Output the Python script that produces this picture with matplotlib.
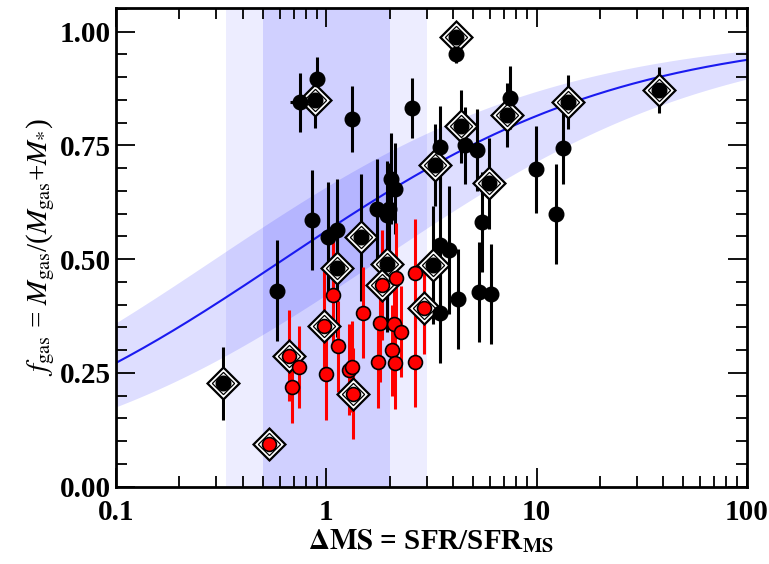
import numpy as np
import matplotlib.pyplot as plt
from matplotlib.ticker import FixedLocator, FixedFormatter, NullFormatter, MultipleLocator

plt.rcParams['font.family'] = ['Liberation Serif', 'DejaVu Serif']
plt.rcParams['mathtext.fontset'] = 'stix'

# black points (plain)
black_x = [0.75, 0.90, 1.33, 4.13, 2.57, 7.46, 13.3, 4.59, 5.21, 3.49, 9.93, 12.4,
           2.03, 5.50, 4.22, 5.33, 6.09, 3.49, 3.82, 3.49, 2.13, 1.94, 1.74, 1.98,
           0.58, 0.855, 1.02, 1.12]
black_y = [0.845, 0.895, 0.808, 0.951, 0.832, 0.855, 0.745, 0.750, 0.739, 0.746, 0.697, 0.599,
           0.677, 0.582, 0.412, 0.427, 0.423, 0.531, 0.520, 0.381, 0.655, 0.596, 0.611, 0.611,
           0.431, 0.586, 0.549, 0.565]
black_err = [0.065, 0.05, 0.072, 0.02, 0.065, 0.07, 0.08, 0.085, 0.09, 0.09, 0.095, 0.11,
             0.10, 0.11, 0.11, 0.11, 0.11, 0.15, 0.14, 0.11, 0.10, 0.12, 0.11, 0.10,
             0.11, 0.11, 0.12, 0.11]
black_xerr = [0.08, 0, 0, 0, 0, 0, 0, 0, 0, 0, 0, 0,
              0, 0, 0, 0, 0, 0, 0, 0, 0, 0, 0, 0,
              0, 0.06, 0, 0]

# black points inside diamonds
bdia_x = [4.13, 7.2, 14.1, 4.35, 3.28, 38.3, 5.95, 3.22, 0.886, 0.322, 1.12, 1.46, 1.94]
bdia_y = [0.988, 0.816, 0.845, 0.792, 0.706, 0.872, 0.667, 0.487, 0.849, 0.227, 0.480, 0.548, 0.490]
bdia_err = [0.02, 0.07, 0.06, 0.08, 0.09, 0.05, 0.10, 0.13, 0.06, 0.08, 0.15, 0.14, 0.15]

# red points (plain)
red_x = [0.687, 0.738, 1.0, 1.08, 1.14, 1.28, 1.33, 1.5, 1.77, 1.8, 2.05, 2.11, 2.15,
         2.13, 2.27, 2.63, 2.63]
red_y = [0.22, 0.264, 0.247, 0.421, 0.309, 0.257, 0.264, 0.382, 0.273, 0.359, 0.30, 0.357,
         0.459, 0.271, 0.34, 0.469, 0.275]
red_err = [0.08, 0.09, 0.10, 0.12, 0.10, 0.10, 0.10, 0.10, 0.10, 0.13, 0.10, 0.11,
           0.12, 0.10, 0.10, 0.12, 0.10]

# red points inside diamonds
rdia_x = [0.531, 0.661, 0.97, 1.34, 1.84, 2.92]
rdia_y = [0.094, 0.288, 0.353, 0.204, 0.443, 0.392]
rdia_err = [0.035, 0.10, 0.12, 0.10, 0.12, 0.10]

# model curve f = 1 / (1 + a * dMS^-b) and its spread
fit_a, fit_b = 0.78, 0.535
fit_a_lo, fit_a_hi = 0.518, 1.37

fig = plt.figure(figsize=(7.69, 5.64), dpi=100)
ax = fig.add_axes([0.151, 0.137, 0.820, 0.849])

# main-sequence bands
ax.axvspan(1/3., 3., color='blue', alpha=0.07, lw=0, zorder=0)
ax.axvspan(0.5, 2., color='blue', alpha=0.12, lw=0, zorder=0)

xx = np.logspace(-1, 2, 300)
ax.fill_between(xx, 1/(1 + fit_a_hi*xx**-fit_b), 1/(1 + fit_a_lo*xx**-fit_b),
                color='blue', alpha=0.13, lw=0, zorder=1)
ax.plot(xx, 1/(1 + fit_a*xx**-fit_b), color='#1a1af0', lw=1.5, zorder=2)

# error bars
ax.errorbar(black_x, black_y, yerr=black_err, xerr=black_xerr, fmt='none',
            ecolor='black', elinewidth=2.2, capsize=0, zorder=3)
ax.errorbar(bdia_x, bdia_y, yerr=bdia_err, fmt='none',
            ecolor='black', elinewidth=2.2, capsize=0, zorder=3)
ax.errorbar(red_x, red_y, yerr=red_err, fmt='none',
            ecolor='red', elinewidth=2.2, capsize=0, zorder=3)
ax.errorbar(rdia_x, rdia_y, yerr=rdia_err, fmt='none',
            ecolor='red', elinewidth=2.2, capsize=0, zorder=3)

# diamonds (double outline)
dia_x = bdia_x + rdia_x
dia_y = bdia_y + rdia_y
ax.plot(dia_x, dia_y, ls='none', marker=(4, 0, 0), ms=23, mfc='white',
        mec='black', mew=1.6, zorder=4)
ax.plot(dia_x, dia_y, ls='none', marker=(4, 0, 0), ms=16, mfc='none',
        mec='black', mew=0.9, zorder=4)

# circles
ax.plot(black_x + bdia_x, black_y + bdia_y, ls='none', marker='o', ms=10.5,
        mfc='black', mec='black', zorder=5)
ax.plot(red_x + rdia_x, red_y + rdia_y, ls='none', marker='o', ms=10,
        mfc='red', mec='black', mew=1.2, zorder=5)

ax.set_xscale('log')
ax.set_xlim(0.1, 100)
ax.set_ylim(0, 1.052)

ax.xaxis.set_major_locator(FixedLocator([0.1, 1, 10, 100]))
ax.xaxis.set_major_formatter(FixedFormatter(['0.1', '1', '10', '100']))
ax.xaxis.set_minor_locator(FixedLocator([m * 10.0**e for e in (-1, 0, 1) for m in range(2, 10)]))
ax.xaxis.set_minor_formatter(NullFormatter())
ax.yaxis.set_major_locator(MultipleLocator(0.25))
ax.yaxis.set_minor_locator(MultipleLocator(0.05))
ax.set_yticks([0, 0.25, 0.5, 0.75, 1.0])
ax.set_yticklabels(['0.00', '0.25', '0.50', '0.75', '1.00'])

ax.tick_params(which='both', direction='in', top=True, right=True, width=1.3, color='black')
ax.tick_params(which='major', length=14)
ax.tick_params(which='minor', length=8)
ax.tick_params(axis='x', which='major', pad=9)
ax.tick_params(axis='y', which='major', pad=4)
for lab in ax.get_xticklabels() + ax.get_yticklabels():
    lab.set_fontsize(21)
    lab.set_fontweight('bold')
for s in ax.spines.values():
    s.set_linewidth(2)

ax.set_xlabel(r'$\mathbf{\Delta MS}$ = SFR/SFR$_{\mathbf{MS}}$', fontsize=21,
              fontweight='bold', labelpad=1)
ax.set_ylabel(r'$f_{\rm gas}$ = $M_{\rm gas}$/($M_{\rm gas}$+$M_{*}$)', fontsize=21, labelpad=2)

fig.savefig('out.png', dpi=100)
